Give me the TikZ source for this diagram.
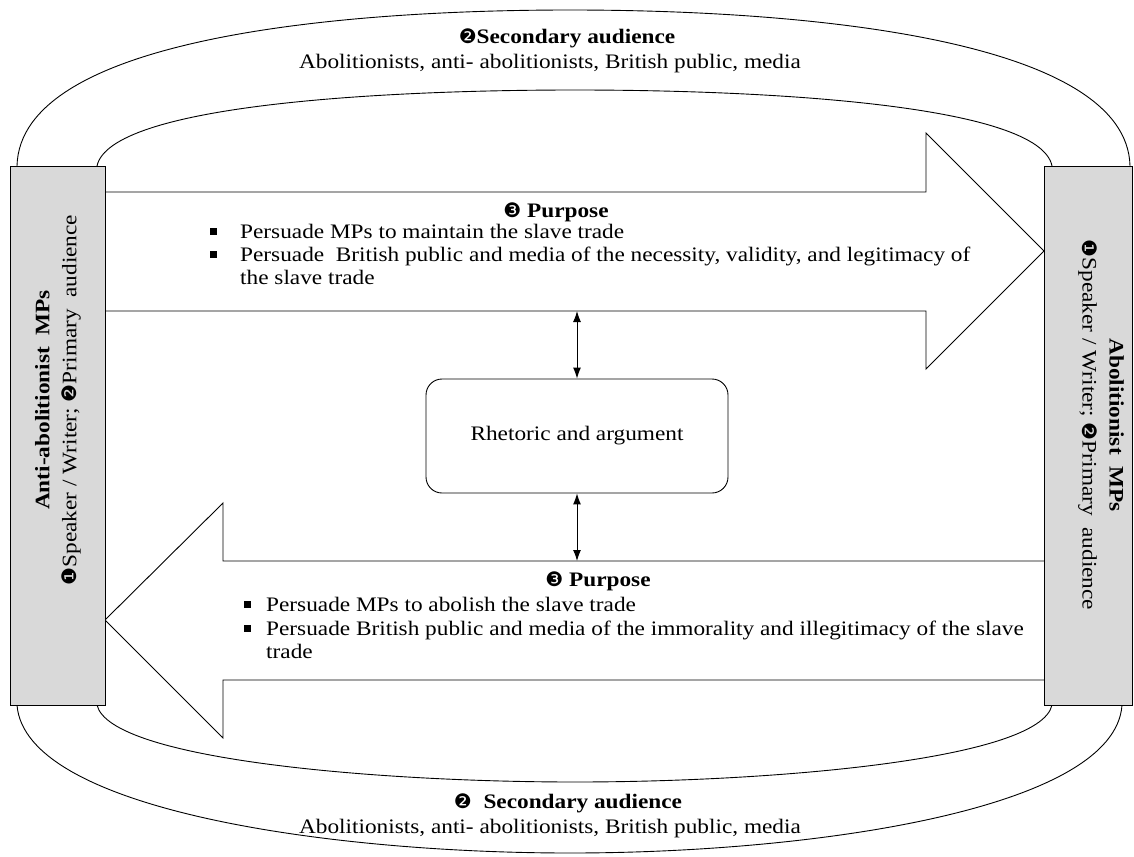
\documentclass[tikz,border=0pt]{standalone}
\usepackage{fontspec}
\setmainfont[FakeStretch=1.13]{Liberation Serif}
\newfontfamily\dvfont{DejaVu Sans}
\usetikzlibrary{arrows.meta}
\newcommand{\cnum}[1]{{\dvfont\fontsize{20}{20}\selectfont #1}}
\newcommand{\sqb}{\rule[3pt]{7pt}{7pt}}
\begin{document}
\begin{tikzpicture}[x=1pt,y=-1pt,
  every node/.style={font=\fontsize{20.6}{24}\selectfont, inner sep=0pt},
  line/.style={draw=black, line width=0.9pt},
  sidebox/.style={draw=black, line width=0.9pt, fill=gray!30},
  bigarrow/.style={draw=black, line width=0.9pt, fill=white, line join=miter},
  dbl/.style={line width=1pt, {Latex[length=11pt,width=8pt]}-{Latex[length=11pt,width=8pt]}}
]
\useasboundingbox (0,0) rectangle (1134,856);
% arcs
\draw[line] (17,166) .. controls (20,40) and (330,10) .. (570,10)
            .. controls (810,10) and (1127,40) .. (1130,166);
\draw[line] (97,166) .. controls (110,105) and (380,90) .. (575,90)
            .. controls (770,90) and (1040,105) .. (1052,166);
\draw[line] (97,705) .. controls (110,760) and (380,782) .. (575,782)
            .. controls (770,782) and (1040,760) .. (1052,705);
\draw[line] (17,705) .. controls (25,810) and (330,853) .. (570,853)
            .. controls (810,853) and (1115,810) .. (1122,705);
% big arrows
\draw[bigarrow] (104,192) -- (926,192) -- (926,133) -- (1044,251) -- (926,369) -- (926,311) -- (104,311);
\draw[bigarrow] (1044,561) -- (223,561) -- (223,503) -- (105,620) -- (223,738) -- (223,680) -- (1044,680);
% side boxes
\node[sidebox, minimum width=95pt, minimum height=539pt, anchor=north west] (L) at (10,166) {};
\node[sidebox, minimum width=88pt, minimum height=539pt, anchor=north west] (R) at (1044,166) {};
\node[rotate=90, align=center, font=\fontsize{20.6}{27}\selectfont] (Ltxt) at (58,400) {\textbf{Anti-abolitionist\ \ MPs}\\\cnum{❶}Speaker / Writer;\ \cnum{❷}Primary\ \ audience};
\node[rotate=-90, align=center, font=\fontsize{20.6}{27}\selectfont] (Rtxt) at (1101,425) {\textbf{Abolitionist\ \ MPs}\\\cnum{❶}Speaker / Writer;\ \cnum{❷}Primary\ \ audience};
% centre box
\node[draw=black, line width=0.9pt, rounded corners=16pt, minimum width=302pt, minimum height=114pt] (rh) at (577,436) {Rhetoric and argument};
\coordinate (upA) at (577,311);
\coordinate (dnA) at (577,561);
\draw[dbl] (upA) -- (rh.north);
\draw[dbl] (rh.south) -- (dnA);
% secondary audience texts
\node[anchor=base] (t1) at (567,44) {\cnum{❷}\textbf{Secondary audience}};
\node[anchor=base] (t2) at (550,69) {Abolitionists, anti- abolitionists, British public, media};
\node[anchor=base] (b1) at (568,808) {\cnum{❷}\ \ \textbf{Secondary audience}};
\node[anchor=base] (b2) at (550,833) {Abolitionists, anti- abolitionists, British public, media};
% top purpose
\node[anchor=base] (tp) at (556,217) {\cnum{❸} \textbf{Purpose}};
\node[anchor=base] (tb1) at (213,238) {\sqb};
\node[anchor=base] (tb2) at (213,261) {\sqb};
\node[anchor=base west] (tl1) at (240,238) {Persuade MPs to maintain the slave trade};
\node[anchor=base west] (tl2) at (240,261) {Persuade\ \ British public and media of the necessity, validity, and legitimacy of};
\node[anchor=base west] (tl3) at (240,284) {the slave trade};
% bottom purpose
\node[anchor=base] (bp) at (598,586) {\cnum{❸} \textbf{Purpose}};
\node[anchor=base] (bb1) at (247,611) {\sqb};
\node[anchor=base] (bb2) at (247,635) {\sqb};
\node[anchor=base west] (bl1) at (266,611) {Persuade MPs to abolish the slave trade};
\node[anchor=base west] (bl2) at (266,635) {Persuade British public and media of the immorality and illegitimacy of the slave};
\node[anchor=base west] (bl3) at (266,658) {trade};
\end{tikzpicture}
\end{document}
